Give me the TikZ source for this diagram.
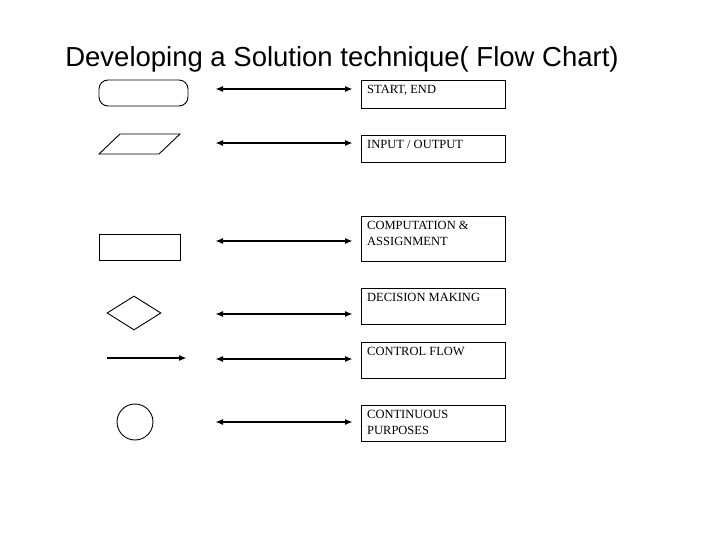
\documentclass[tikz,border=0pt]{standalone}
\usepackage{fontspec}
\setmainfont{Liberation Serif}
\newfontfamily\titlefont{Liberation Sans}
\usetikzlibrary{shapes.geometric,arrows.meta}
\tikzset{
  symb/.style={draw, line width=0.9pt},
  legend/.style={draw, line width=0.9pt, anchor=north west, minimum width=144pt},
  legendtext/.style={anchor=north west, align=left, inner sep=0pt,
    font=\fontsize{12.5}{16}\selectfont},
  edgeboth/.style={line width=1.6pt, {Latex[length=8pt,width=6pt]}-{Latex[length=8pt,width=6pt]}},
  edgeflow/.style={line width=1.6pt, -{Latex[length=8pt,width=6pt]}}
}
\begin{document}
\begin{tikzpicture}[x=1pt,y=-1pt]
\useasboundingbox (0,0) rectangle (720,540);
\node[font=\titlefont\fontsize{27.5}{32}\selectfont] (title) at (342,59)
{Developing a Solution technique( Flow Chart)};

% symbols
\node[symb, rounded corners=9pt, minimum width=89pt, minimum height=26pt] (s1) at (143.5,93) {};
\draw[symb] (99,154) -- (120,134) -- (180,134) -- (159,154) -- cycle;
\node[symb, minimum width=81pt, minimum height=26pt] (s3) at (139.5,247) {};
\node[symb, diamond, minimum width=54pt, minimum height=34pt, inner sep=0pt] (s4) at (134,313) {};
\coordinate (s5a) at (107,358);
\coordinate (s5b) at (187,358);
\draw[edgeflow] (s5a) -- (s5b);
\node[symb, circle, minimum size=36pt, inner sep=0pt] (s6) at (135,422) {};

% arrows
\foreach \n/\y in {1/89,2/143,3/241,4/314,5/359,6/422}{
  \coordinate (l\n) at (215,\y);
  \coordinate (r\n) at (353,\y);
  \draw[edgeboth] (l\n) -- (r\n);
}

% legend boxes
\node[legend, minimum height=28pt] (b1) at (361,80) {};
\node[legend, minimum height=27pt] (b2) at (361,135) {};
\node[legend, minimum height=45pt] (b3) at (361,216) {};
\node[legend, minimum height=36pt] (b4) at (361,288) {};
\node[legend, minimum height=36pt] (b5) at (361,342) {};
\node[legend, minimum height=36pt] (b6) at (361,405) {};
\foreach \n/\t in {1/{START, END},2/{INPUT / OUTPUT},3/{COMPUTATION \&\\ASSIGNMENT},
  4/{DECISION MAKING},5/{CONTROL FLOW},6/{CONTINUOUS\\PURPOSES}}{
  \node[legendtext] (t\n) at ([xshift=6pt,yshift=-5pt]b\n.north west) {\t};
}
\end{tikzpicture}
\end{document}
